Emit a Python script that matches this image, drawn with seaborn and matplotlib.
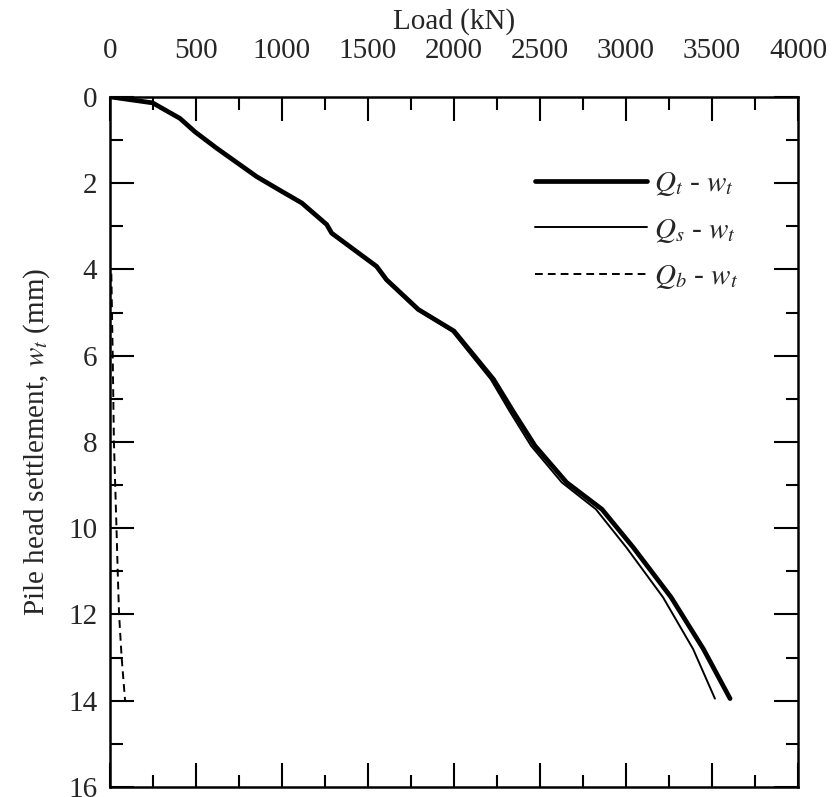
import numpy as np
import pandas as pd
import matplotlib
matplotlib.use("Agg")
import matplotlib.pyplot as plt
import seaborn as sns
from matplotlib.ticker import MultipleLocator

# Pile head settlement (mm) and corresponding loads (kN)
w_total = [0.0, 0.14, 0.50, 0.81, 1.19, 1.85, 2.19, 2.46, 2.96, 3.16, 3.93, 4.24,
           4.93, 5.43, 6.55, 7.30, 8.09, 8.94, 9.56, 10.45, 11.60, 12.80, 13.95]
q_total = [0, 248, 407, 494, 620, 853, 998, 1115, 1260, 1289, 1550, 1608,
           1793, 2000, 2230, 2345, 2471, 2655, 2860, 3043, 3262, 3450, 3605]

w_shaft = [0.0, 0.14, 0.50, 0.81, 1.19, 1.85, 2.19, 2.46, 2.96, 3.16, 3.93, 4.24,
           4.93, 5.43, 6.55, 7.30, 8.09, 8.94, 9.56, 10.45, 11.60, 12.80, 13.95]
q_shaft = [0, 248, 407, 494, 620, 853, 998, 1115, 1260, 1289, 1545, 1600,
           1783, 1988, 2214, 2325, 2448, 2627, 2825, 3003, 3215, 3390, 3517]

w_base = [4.1, 6.0, 8.0, 10.0, 11.0, 12.0, 13.0, 14.0]
q_base = [8, 16, 23, 38, 45, 53, 68, 88]

sns.set_theme(style="white")
plt.rcParams["font.family"] = ["Liberation Serif", "DejaVu Serif"]
plt.rcParams["mathtext.fontset"] = "stix"

FS = 21

fig = plt.figure(figsize=(8.33, 7.97), dpi=100)
ax = fig.add_axes([0.132, 0.0125, 0.826, 0.866])

sns.lineplot(x=q_total, y=w_total, sort=False, estimator=None, ax=ax,
             color="black", lw=3.4, label=r"$Q_t$ - $w_t$")
sns.lineplot(x=q_shaft, y=w_shaft, sort=False, estimator=None, ax=ax,
             color="black", lw=1.4, label=r"$Q_s$ - $w_t$")
sns.lineplot(x=q_base, y=w_base, sort=False, estimator=None, ax=ax,
             color="black", lw=1.4, linestyle=(0, (4, 2.6)), label=r"$Q_b$ - $w_t$")

ax.set_xlim(0, 4000)
ax.set_ylim(16, 0)
ax.xaxis.set_major_locator(MultipleLocator(500))
ax.xaxis.set_minor_locator(MultipleLocator(250))
ax.yaxis.set_major_locator(MultipleLocator(2))
ax.yaxis.set_minor_locator(MultipleLocator(1))

ax.xaxis.tick_top()
ax.xaxis.set_label_position("top")
ax.tick_params(which="both", direction="in", top=True, bottom=True,
               left=True, right=True, labeltop=True, labelbottom=False,
               labelleft=True, labelright=False, width=1.5, color="black",
               labelsize=FS)
ax.tick_params(which="major", length=17)
ax.tick_params(which="minor", length=9)
ax.tick_params(axis="x", which="major", pad=24)
ax.tick_params(axis="y", which="major", pad=9)

for s in ax.spines.values():
    s.set_visible(True)
    s.set_color("black")
    s.set_linewidth(1.8)

ax.set_xlabel("Load (kN)", fontsize=FS, labelpad=6)
ax.set_ylabel(r"Pile head settlement, $w_t$ (mm)", fontsize=FS, labelpad=12)

leg = ax.legend(loc="upper right", bbox_to_anchor=(0.952, 0.932), frameon=False,
                fontsize=FS, handlelength=3.85, handletextpad=0.25,
                labelspacing=0.64)

fig.savefig("out.png", dpi=100)
